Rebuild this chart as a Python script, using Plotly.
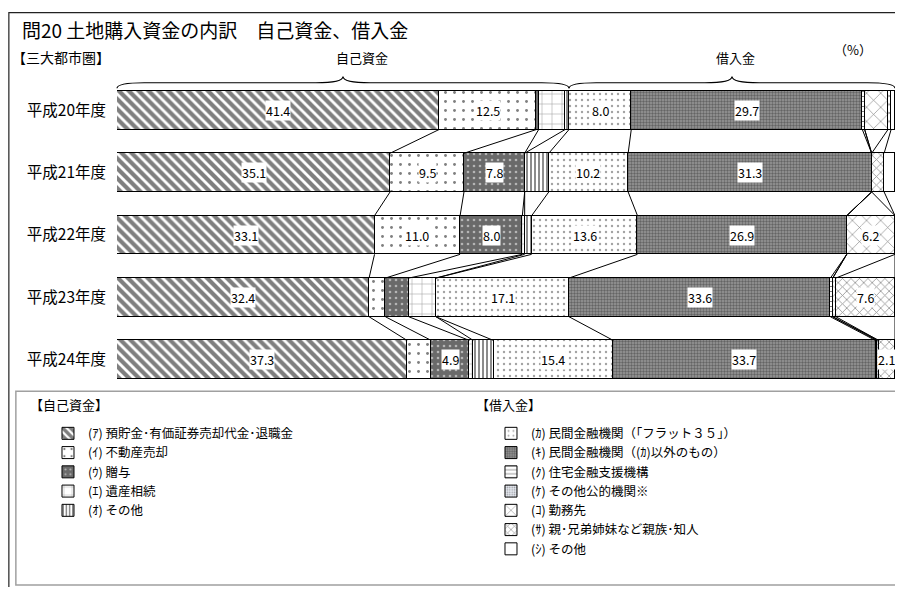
import plotly.graph_objects as go

years = ['平成20年度', '平成21年度', '平成22年度', '平成23年度', '平成24年度']

# 自己資金
own_names = ['(ｱ) 預貯金･有価証券売却代金･退職金', '(ｲ) 不動産売却', '(ｳ) 贈与',
             '(ｴ) 遺産相続', '(ｵ) その他']
savings = [41.4, 35.1, 33.1, 32.4, 37.3]
realestate = [12.5, 9.5, 11.0, 2.1, 3.1]
gift = [0.3, 7.8, 8.0, 3.0, 4.9]
inherit = [3.4, 0.0, 0.3, 3.5, 0.5]
own_other = [0.5, 3.1, 0.9, 0.0, 2.6]

# 借入金
loan_names = ['(ｶ) 民間金融機関（｢フラット３５｣）', '(ｷ) 民間金融機関（(ｶ)以外のもの）',
              '(ｸ) 住宅金融支援機構', '(ｹ) その他公的機関※', '(ｺ) 勤務先',
              '(ｻ) 親･兄弟姉妹など親族･知人', '(ｼ) その他']
flat35 = [8.0, 10.2, 13.6, 17.1, 15.4]
private_bank = [29.7, 31.3, 26.9, 33.6, 33.7]
jhf = [0.3, 0.0, 0.0, 0.3, 0.2]
public_other = [0.0, 0.0, 0.0, 0.0, 0.2]
employer = [3.0, 0.0, 6.2, 0.4, 0.0]
relatives = [0.4, 1.6, 0.0, 7.6, 2.1]
loan_other = [0.5, 1.4, 0.0, 0.0, 0.0]

own_series = [savings, realestate, gift, inherit, own_other]
loan_series = [flat35, private_bank, jhf, public_other, employer, relatives, loan_other]

FONT = 'Noto Sans CJK JP'

patterns = [
    dict(shape='\\', bgcolor='white', fgcolor='black', size=7, solidity=0.6),
    dict(shape='.', bgcolor='white', fgcolor='black', size=9, solidity=0.08),
    dict(shape='.', bgcolor='#6a6a6a', fgcolor='white', size=6, solidity=0.15),
    dict(shape='+', bgcolor='white', fgcolor='#333333', size=10, solidity=0.1),
    dict(shape='|', bgcolor='white', fgcolor='black', size=4, solidity=0.45),
    dict(shape='.', bgcolor='white', fgcolor='#444444', size=6, solidity=0.12),
    dict(shape='.', bgcolor='#999999', fgcolor='#303030', size=3, solidity=0.5),
    dict(shape='-', bgcolor='white', fgcolor='black', size=5, solidity=0.2),
    dict(shape='.', bgcolor='#e4e8f0', fgcolor='#555555', size=3, solidity=0.3),
    dict(shape='x', bgcolor='white', fgcolor='black', size=10, solidity=0.12),
    dict(shape='x', bgcolor='white', fgcolor='#222222', size=6, solidity=0.25),
    None,
]


def main():
    names = own_names + loan_names
    series = own_series + loan_series
    rows = list(range(len(years)))
    bar_w = 0.62

    fig = go.Figure()
    for i, (name, vals) in enumerate(zip(names, series)):
        marker = dict(color='white', line=dict(color='black', width=1))
        if patterns[i] is not None:
            marker['pattern'] = patterns[i]
        fig.add_trace(go.Bar(
            x=vals, y=rows, orientation='h', name=name, width=bar_w,
            marker=marker, legend='legend' if i < len(own_names) else 'legend2',
        ))

    # cumulative boundaries per row
    cums = []
    for r in rows:
        c, acc = [], 0.0
        for vals in series:
            acc += vals[r]
            c.append(acc)
        cums.append(c)

    # series lines between rows
    lx, ly = [], []
    for r in rows[:-1]:
        for k in range(len(series) - 1):
            lx += [cums[r][k], cums[r + 1][k], None]
            ly += [r + bar_w / 2, r + 1 - bar_w / 2, None]
    fig.add_trace(go.Scatter(x=lx, y=ly, mode='lines', line=dict(color='black', width=1),
                             showlegend=False, hoverinfo='skip'))

    # value labels
    for r in rows:
        prev = 0.0
        for k, vals in enumerate(series):
            v = vals[r]
            if v >= 4.5 or (k == 10 and v >= 2):
                fig.add_annotation(x=prev + v / 2, y=r, text=f'{v:.1f}', showarrow=False,
                                   bgcolor='white', borderpad=0,
                                   font=dict(family=FONT, size=12.5, color='black'))
            prev += v

    def text(x, y, s, size, xanchor='center'):
        fig.add_annotation(x=x, y=y, xref='paper', yref='paper', text=s, showarrow=False,
                           xanchor=xanchor, yanchor='middle',
                           font=dict(family=FONT, size=size, color='black'))

    # braces over 自己資金 / 借入金 (first row split)
    own_total = cums[0][len(own_series) - 1]
    y_end, y_mid, y_peak = 0.970, 0.988, 1.008
    q = 0.035
    for a, b, label, off in [(0.0, own_total / 100, '自己資金', 0.025),
                             (own_total / 100, 1.0, '借入金', 0.004)]:
        m = (a + b) / 2
        path = (f'M{a},{y_end} Q{a},{y_mid} {a + q},{y_mid} L{m - q},{y_mid} '
                f'Q{m},{y_mid} {m},{y_peak} Q{m},{y_mid} {m + q},{y_mid} '
                f'L{b - q},{y_mid} Q{b},{y_mid} {b},{y_end}')
        fig.add_shape(type='path', path=path, xref='paper', yref='paper',
                      line=dict(color='black', width=1.2))
        text(m + off, 1.068, label, 13)

    text(0.946, 1.094, '（%）', 13)
    text(-0.125, 1.158, '問20 土地購入資金の内訳　自己資金、借入金', 19, 'left')
    text(-0.137, 1.071, '【三大都市圏】', 14, 'left')
    text(-0.114, -0.044, '【自己資金】', 13, 'left')
    text(0.459, -0.044, '【借入金】', 13, 'left')

    # outer frame and legend box
    fig.add_shape(type='path', path='M-0.139,-0.7 L-0.139,1.2125 L1.05,1.2125',
                  xref='paper', yref='paper', line=dict(color='#222222', width=1.2))
    fig.add_shape(type='rect', x0=-0.130, x1=1.05, y0=-0.622, y1=-0.001,
                  xref='paper', yref='paper', line=dict(color='#a0a0a0', width=1.5))

    legend_style = dict(
        font=dict(family=FONT, size=12.5, color='black'), bgcolor='rgba(0,0,0,0)',
        borderwidth=0, yanchor='top', xanchor='left', traceorder='normal',
    )

    # the page body keeps an 8px margin; size the figure so the page does not overflow
    fig.update_layout(
        width=887, height=579,
        margin=dict(l=109, r=0, t=71, b=196),
        barmode='stack', bargap=0,
        paper_bgcolor='white', plot_bgcolor='white',
        font=dict(family=FONT, color='black'),
        xaxis=dict(range=[0, 100], visible=False),
        yaxis=dict(range=[4.5, -0.5], tickvals=rows, ticktext=years, ticks='',
                   showgrid=False, zeroline=False, showline=False,
                   ticklabelstandoff=10, tickfont=dict(family=FONT, size=15.5, color='black')),
        legend=dict(legend_style, x=-0.0887, y=-0.0888),
        legend2=dict(legend_style, x=0.4807, y=-0.0888),
    )

    fig.write_html('out.html')


if __name__ == '__main__':
    main()
